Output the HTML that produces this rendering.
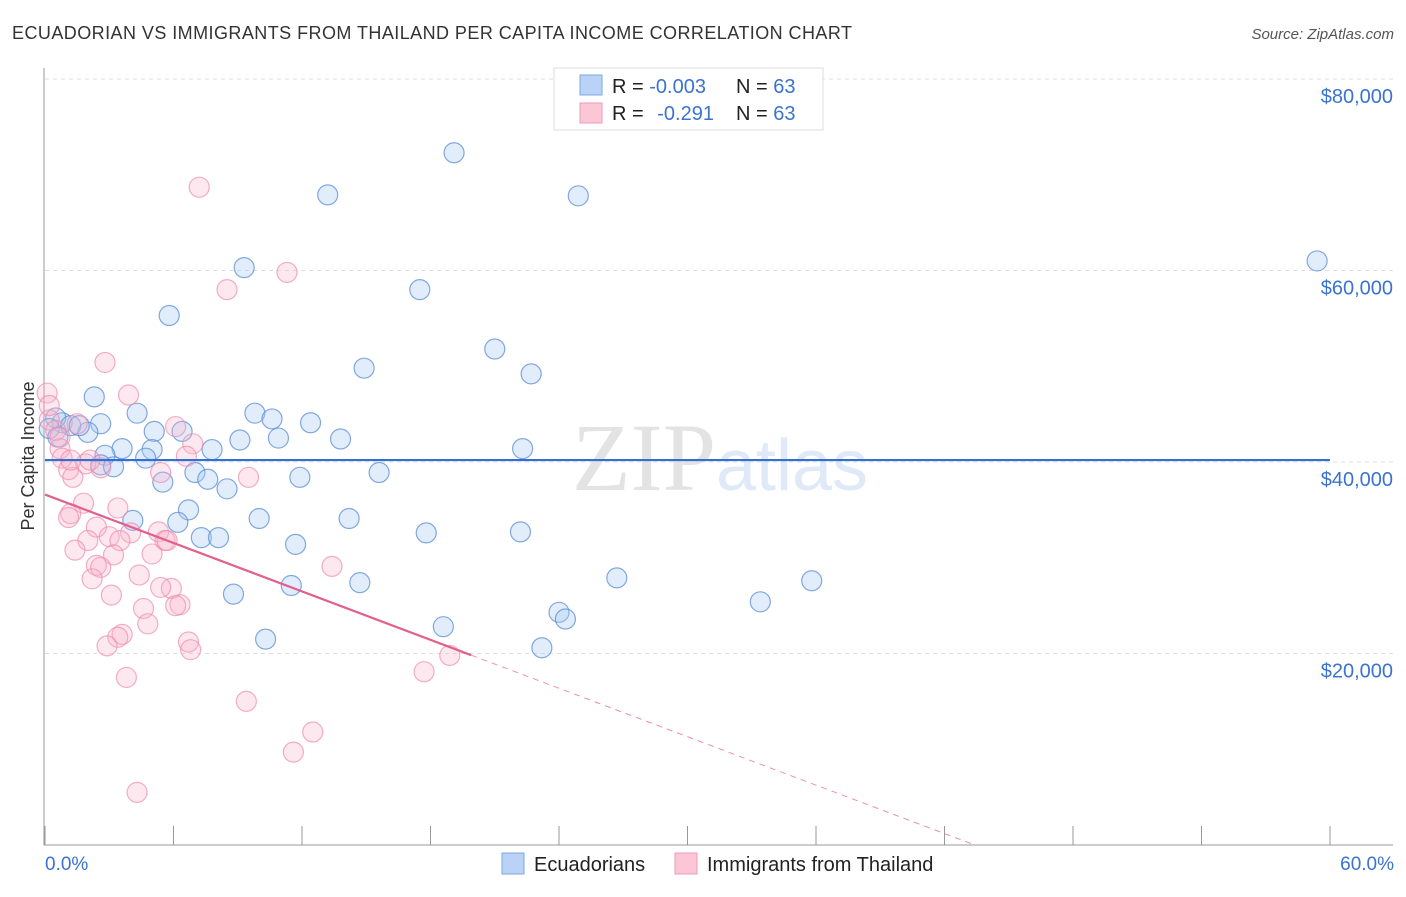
<!DOCTYPE html>
<html><head><meta charset="utf-8"><style>
body{margin:0;background:#fff;font-family:"Liberation Sans",sans-serif}
</style></head><body>
<svg width="1406" height="892" xmlns="http://www.w3.org/2000/svg" style="font-family:'Liberation Sans',sans-serif">
<text x="12" y="39" font-size="18" fill="#333" textLength="840">ECUADORIAN VS IMMIGRANTS FROM THAILAND PER CAPITA INCOME CORRELATION CHART</text>
<text x="1394" y="39" font-size="15" fill="#555" font-style="italic" text-anchor="end">Source: ZipAtlas.com</text>
<text x="720" y="490" font-size="96" fill="#e3e3e3" text-anchor="middle" font-family="Liberation Serif">ZIP<tspan fill="#dfe9f7" font-family="Liberation Sans" font-size="72">atlas</tspan></text>
<g id="grid"></g>
<g id="axes"></g>
<g id="pts"></g>
<g id="lines"></g>
<text transform="translate(34,456) rotate(-90)" font-size="18" fill="#333" text-anchor="middle">Per Capita Income</text>
<text x="45" y="870" font-size="19" fill="#3b73d1">0.0%</text>
<text x="1394" y="870" font-size="19" fill="#3b73d1" text-anchor="end">60.0%</text>
<g>
<rect x="554" y="68" width="269" height="62" fill="#fff" stroke="#ddd"/>
<rect x="580" y="75" width="22" height="20" fill="#b9d2f5" stroke="#7aa8e6"/>
<rect x="580" y="103" width="22" height="20" fill="#fbc6d6" stroke="#f29ab6"/>
<text x="612" y="93" font-size="20" fill="#222">R = <tspan fill="#3b73d1">-0.003</tspan></text>
<text x="736" y="93" font-size="20" fill="#222">N = <tspan fill="#3b73d1">63</tspan></text>
<text x="612" y="120" font-size="20" fill="#222">R = <tspan fill="#3b73d1" dx="8">-0.291</tspan></text>
<text x="736" y="120" font-size="20" fill="#222">N = <tspan fill="#3b73d1">63</tspan></text>
</g>
<g>
<rect x="502" y="853" width="22" height="21" fill="#b9d2f5" stroke="#7aa8e6"/>
<text x="534" y="871" font-size="20" fill="#222">Ecuadorians</text>
<rect x="675" y="853" width="22" height="21" fill="#fbc6d6" stroke="#f29ab6"/>
<text x="707" y="871" font-size="20" fill="#222">Immigrants from Thailand</text>
</g>
</svg>
<script>
const yTicks=[20000,40000,60000,80000];
const yTickLabels=["$20,000","$40,000","$60,000","$80,000"];
const xTicks=[0,6,12,18,24,30,36,42,48,54,60];
const blueX=[19.1,13.2,24.9,59.4,9.3,17.5,5.8,21.0,14.9,22.7,2.3,4.3,9.8,10.6,12.4,2.6,0.8,2.0,5.1,6.4,9.1,10.9,13.8,22.3,3.6,5.0,7.8,2.8,4.7,2.6,3.2,7.0,15.6,7.6,11.9,5.5,8.5,6.7,4.1,6.2,10.0,14.2,17.8,22.2,7.3,8.1,11.7,26.7,35.8,14.7,11.5,8.8,24.0,24.3,33.4,18.6,10.3,23.2,0.5,1.2,0.2,1.6,0.6];
const blueY=[72.3,67.9,67.8,61.0,60.3,58.0,55.3,51.8,49.8,49.2,46.8,45.1,45.1,44.5,44.1,44.0,44.1,43.1,43.2,43.2,42.3,42.5,42.4,41.4,41.4,41.3,41.3,40.7,40.4,39.7,39.5,38.9,38.9,38.2,38.4,37.9,37.2,35.0,33.9,33.7,34.1,34.1,32.6,32.7,32.1,32.1,31.4,27.9,27.6,27.4,27.1,26.2,24.3,23.6,25.4,22.8,21.5,20.6,44.6,43.8,43.5,43.8,42.6];
const pinkX=[7.2,11.3,8.5,2.8,3.9,0.1,0.2,6.1,6.9,0.7,0.8,6.6,1.9,1.1,2.6,1.3,9.5,1.8,1.2,1.1,3.4,2.4,5.3,5.6,3.0,4.0,2.0,3.5,1.4,5.0,3.2,2.4,2.6,13.4,4.4,2.2,3.1,5.9,5.4,6.3,6.1,4.6,4.8,3.6,3.4,6.7,6.8,2.9,3.8,9.4,17.7,18.9,12.5,11.6,4.3,0.2,0.5,0.7,1.2,2.1,5.4,5.7,1.5];
const pinkY=[68.7,59.8,58.0,50.4,47.0,47.2,44.4,43.7,41.9,41.4,40.4,40.6,39.8,39.2,39.4,38.4,38.4,35.7,34.6,34.2,35.2,33.2,32.7,31.8,32.2,32.6,31.8,31.8,30.8,30.4,30.3,29.2,29.0,29.1,28.2,27.8,26.1,26.8,26.9,25.1,25.0,24.7,23.1,22.0,21.7,21.2,20.4,20.8,17.5,15.0,18.1,19.8,11.8,9.7,5.5,45.9,43.3,42.6,40.2,40.2,38.9,31.8,44.0];
const blueFit=[40.2,40.2];
const pinkFit=[36.6,-0.843];
const pinkSolidEnd=19.9;
const pinkDashEnd=43.4;
const NS="http://www.w3.org/2000/svg";
const X=v=>45+v/60*1285;
const Y=v=>845-v/20000*191.5;
function mk(t,a,p){const e=document.createElementNS(NS,t);for(const k in a)e.setAttribute(k,a[k]);document.getElementById(p).appendChild(e);return e;}
yTicks.forEach((t,i)=>{
 const l=mk('line',{x1:45,x2:1393,y1:Y(t),y2:Y(t),stroke:'#ddd','stroke-dasharray':'4,4'},'grid');
 
 
 const tx=mk('text',{x:1393,y:Y(t)+24,'font-size':20,fill:'#3b73d1','text-anchor':'end'},'grid');
 tx.textContent=yTickLabels[i];
 
 
});
const ya=mk('line',{x1:44,x2:44,y1:68,y2:845,stroke:'#999'},'axes');


const xa=mk('line',{x1:44,x2:1393,y1:845,y2:845,stroke:'#999'},'axes');


xTicks.forEach(t=>{
 const l=mk('line',{x1:X(t),x2:X(t),y1:826,y2:845,stroke:'#999'},'axes');
 
 
});
blueX.forEach((v,i)=>{
 const c=mk('circle',{cx:X(v),cy:Y(blueY[i]*1000),r:10,fill:'rgba(170,202,242,0.35)',stroke:'rgba(90,140,215,0.75)','stroke-width':1.2},'pts');
 
 
});
pinkX.forEach((v,i)=>{
 const c=mk('circle',{cx:X(v),cy:Y(pinkY[i]*1000),r:10,fill:'rgba(248,180,202,0.3)',stroke:'rgba(238,140,175,0.7)','stroke-width':1.2},'pts');
 
 
});
const bl=mk('line',{x1:X(0),x2:X(60),y1:Y(blueFit[0]*1000),y2:Y(blueFit[1]*1000),stroke:'#2f6fd6','stroke-width':2.2},'lines');


const pf=x=>pinkFit[0]+pinkFit[1]*x;
const pl=mk('line',{x1:X(0),x2:X(pinkSolidEnd),y1:Y(pf(0)*1000),y2:Y(pf(pinkSolidEnd)*1000),stroke:'#e2608e','stroke-width':2.2},'lines');


const pd=mk('line',{x1:X(pinkSolidEnd),x2:X(pinkDashEnd),y1:Y(pf(pinkSolidEnd)*1000),y2:Y(pf(pinkDashEnd)*1000),stroke:'#ec8fb0','stroke-width':1,'stroke-dasharray':'6,5'},'lines');


</script>
</body></html>
